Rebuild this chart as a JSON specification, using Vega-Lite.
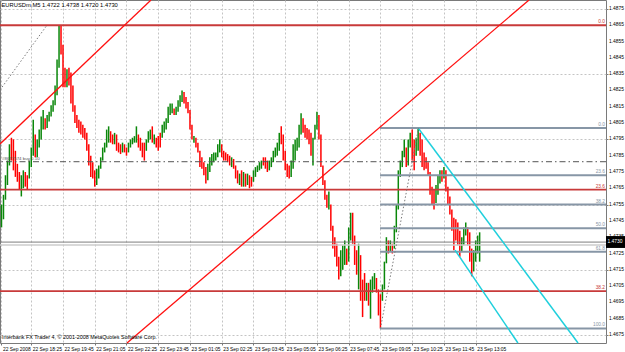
{
  "$schema": "https://vega.github.io/schema/vega-lite/v6.json",
  "width": 606,
  "height": 343,
  "autosize": "none",
  "padding": {"left": 0, "top": 0, "right": 19, "bottom": 9},
  "background": "white",
  "config": {
    "view": {"stroke": "#7a7a7a", "strokeWidth": 1},
    "font": "Liberation Sans",
    "axis": {"labelFont": "Liberation Sans", "labelFontSize": 4.9, "labelColor": "#000000", "gridColor": "#c4c4c4", "gridDash": [2, 2], "gridWidth": 1, "tickColor": "#7a7a7a", "tickSize": 2, "domain": false, "title": null, "zindex": 0, "labelOverlap": false, "labelSeparation": 0, "labelFlush": false}
  },
  "datasets": {
    "bars": [
      {"k":0,"h":1.4755,"l":1.4741,"u":1},{"k":1,"h":1.4761,"l":1.4746,"u":1},{"k":2,"h":1.4773,"l":1.4758,"u":1},{"k":3,"h":1.4782,"l":1.4767,"u":1},{"k":4,"h":1.4792,"l":1.4779,"u":1},
      {"k":5,"h":1.4796,"l":1.4782,"u":0},{"k":6,"h":1.4795,"l":1.4776,"u":0},{"k":7,"h":1.4788,"l":1.4772,"u":0},{"k":8,"h":1.4780,"l":1.4769,"u":0},{"k":9,"h":1.4775,"l":1.4764,"u":0},
      {"k":10,"h":1.4773,"l":1.4760,"u":1},{"k":11,"h":1.4776,"l":1.4765,"u":1},{"k":12,"h":1.4775,"l":1.4766,"u":0},{"k":13,"h":1.4773,"l":1.4764,"u":0},{"k":14,"h":1.4782,"l":1.4771,"u":1},
      {"k":15,"h":1.4790,"l":1.4778,"u":1},{"k":16,"h":1.4807,"l":1.4785,"u":1},{"k":17,"h":1.4798,"l":1.4784,"u":0},{"k":18,"h":1.4795,"l":1.4784,"u":1},{"k":19,"h":1.4801,"l":1.4790,"u":1},
      {"k":20,"h":1.4809,"l":1.4795,"u":1},{"k":21,"h":1.4813,"l":1.4801,"u":1},{"k":22,"h":1.4808,"l":1.4801,"u":0},{"k":23,"h":1.4810,"l":1.4802,"u":1},{"k":24,"h":1.4812,"l":1.4806,"u":1},
      {"k":25,"h":1.4816,"l":1.4809,"u":1},{"k":26,"h":1.4819,"l":1.4812,"u":1},{"k":27,"h":1.4828,"l":1.4816,"u":1},{"k":28,"h":1.4844,"l":1.4822,"u":1},{"k":29,"h":1.4865,"l":1.4839,"u":1},
      {"k":30,"h":1.4865,"l":1.4847,"u":0},{"k":31,"h":1.4853,"l":1.4827,"u":0},{"k":32,"h":1.4839,"l":1.4827,"u":0},{"k":33,"h":1.4838,"l":1.4827,"u":1},{"k":34,"h":1.4839,"l":1.4828,"u":0},
      {"k":35,"h":1.4836,"l":1.4817,"u":0},{"k":36,"h":1.4828,"l":1.4812,"u":0},{"k":37,"h":1.4816,"l":1.4805,"u":0},{"k":38,"h":1.4810,"l":1.4802,"u":0},{"k":39,"h":1.4807,"l":1.4799,"u":0},
      {"k":40,"h":1.4806,"l":1.4798,"u":0},{"k":41,"h":1.4804,"l":1.4796,"u":0},{"k":42,"h":1.4802,"l":1.4795,"u":0},{"k":43,"h":1.4799,"l":1.4788,"u":0},{"k":44,"h":1.4792,"l":1.4779,"u":0},
      {"k":45,"h":1.4785,"l":1.4772,"u":0},{"k":46,"h":1.4781,"l":1.4771,"u":0},{"k":47,"h":1.4776,"l":1.4766,"u":0},{"k":48,"h":1.4777,"l":1.4767,"u":1},{"k":49,"h":1.4779,"l":1.4771,"u":1},
      {"k":50,"h":1.4784,"l":1.4777,"u":1},{"k":51,"h":1.4790,"l":1.4782,"u":1},{"k":52,"h":1.4793,"l":1.4787,"u":1},{"k":53,"h":1.4801,"l":1.4790,"u":1},{"k":54,"h":1.4803,"l":1.4793,"u":1},
      {"k":55,"h":1.4800,"l":1.4793,"u":0},{"k":56,"h":1.4798,"l":1.4792,"u":0},{"k":57,"h":1.4799,"l":1.4792,"u":1},{"k":58,"h":1.4798,"l":1.4788,"u":0},{"k":59,"h":1.4793,"l":1.4787,"u":0},
      {"k":60,"h":1.4792,"l":1.4786,"u":0},{"k":61,"h":1.4793,"l":1.4787,"u":1},{"k":62,"h":1.4792,"l":1.4787,"u":0},{"k":63,"h":1.4790,"l":1.4785,"u":0},{"k":64,"h":1.4793,"l":1.4787,"u":1},
      {"k":65,"h":1.4795,"l":1.4790,"u":1},{"k":66,"h":1.4796,"l":1.4792,"u":1},{"k":67,"h":1.4797,"l":1.4793,"u":1},{"k":68,"h":1.4803,"l":1.4793,"u":1},{"k":69,"h":1.4798,"l":1.4790,"u":0},
      {"k":70,"h":1.4796,"l":1.4788,"u":0},{"k":71,"h":1.4793,"l":1.4784,"u":0},{"k":72,"h":1.4793,"l":1.4782,"u":0},{"k":73,"h":1.4795,"l":1.4788,"u":1},{"k":74,"h":1.4800,"l":1.4793,"u":1},
      {"k":75,"h":1.4801,"l":1.4795,"u":1},{"k":76,"h":1.4803,"l":1.4793,"u":0},{"k":77,"h":1.4798,"l":1.4792,"u":1},{"k":78,"h":1.4796,"l":1.4790,"u":0},{"k":79,"h":1.4797,"l":1.4788,"u":0},
      {"k":80,"h":1.4799,"l":1.4790,"u":0},{"k":81,"h":1.4804,"l":1.4796,"u":1},{"k":82,"h":1.4806,"l":1.4799,"u":1},{"k":83,"h":1.4808,"l":1.4801,"u":1},{"k":84,"h":1.4815,"l":1.4805,"u":1},
      {"k":85,"h":1.4817,"l":1.4810,"u":1},{"k":86,"h":1.4817,"l":1.4811,"u":1},{"k":87,"h":1.4814,"l":1.4810,"u":0},{"k":88,"h":1.4815,"l":1.4810,"u":1},{"k":89,"h":1.4819,"l":1.4812,"u":1},
      {"k":90,"h":1.4822,"l":1.4815,"u":1},{"k":91,"h":1.4825,"l":1.4818,"u":1},{"k":92,"h":1.4824,"l":1.4817,"u":0},{"k":93,"h":1.4821,"l":1.4814,"u":0},{"k":94,"h":1.4818,"l":1.4811,"u":0},
      {"k":95,"h":1.4813,"l":1.4801,"u":0},{"k":96,"h":1.4804,"l":1.4795,"u":0},{"k":97,"h":1.4797,"l":1.4793,"u":1},{"k":98,"h":1.4796,"l":1.4790,"u":0},{"k":99,"h":1.4793,"l":1.4787,"u":0},
      {"k":100,"h":1.4788,"l":1.4778,"u":0},{"k":101,"h":1.4784,"l":1.4777,"u":0},{"k":102,"h":1.4781,"l":1.4773,"u":0},{"k":103,"h":1.4778,"l":1.4768,"u":0},{"k":104,"h":1.4780,"l":1.4770,"u":1},
      {"k":105,"h":1.4784,"l":1.4775,"u":1},{"k":106,"h":1.4786,"l":1.4779,"u":1},{"k":107,"h":1.4787,"l":1.4781,"u":1},{"k":108,"h":1.4787,"l":1.4782,"u":1},{"k":109,"h":1.4792,"l":1.4784,"u":1},
      {"k":110,"h":1.4795,"l":1.4787,"u":1},{"k":111,"h":1.4792,"l":1.4784,"u":0},{"k":112,"h":1.4788,"l":1.4782,"u":0},{"k":113,"h":1.4787,"l":1.4782,"u":0},{"k":114,"h":1.4786,"l":1.4781,"u":0},
      {"k":115,"h":1.4785,"l":1.4779,"u":0},{"k":116,"h":1.4784,"l":1.4778,"u":1},{"k":117,"h":1.4783,"l":1.4777,"u":0},{"k":118,"h":1.4779,"l":1.4771,"u":0},{"k":119,"h":1.4776,"l":1.4768,"u":0},
      {"k":120,"h":1.4774,"l":1.4767,"u":1},{"k":121,"h":1.4776,"l":1.4766,"u":0},{"k":122,"h":1.4775,"l":1.4766,"u":1},{"k":123,"h":1.4774,"l":1.4766,"u":0},{"k":124,"h":1.4774,"l":1.4767,"u":1},
      {"k":125,"h":1.4773,"l":1.4765,"u":0},{"k":126,"h":1.4772,"l":1.4766,"u":0},{"k":127,"h":1.4776,"l":1.4769,"u":1},{"k":128,"h":1.4778,"l":1.4772,"u":1},{"k":129,"h":1.4779,"l":1.4775,"u":1},
      {"k":130,"h":1.4781,"l":1.4776,"u":1},{"k":131,"h":1.4782,"l":1.4777,"u":1},{"k":132,"h":1.4784,"l":1.4779,"u":0},{"k":133,"h":1.4784,"l":1.4777,"u":0},{"k":134,"h":1.4782,"l":1.4775,"u":0},
      {"k":135,"h":1.4782,"l":1.4776,"u":1},{"k":136,"h":1.4784,"l":1.4778,"u":1},{"k":137,"h":1.4788,"l":1.4781,"u":1},{"k":138,"h":1.4790,"l":1.4784,"u":1},{"k":139,"h":1.4793,"l":1.4785,"u":1},
      {"k":140,"h":1.4799,"l":1.4788,"u":1},{"k":141,"h":1.4803,"l":1.4792,"u":0},{"k":142,"h":1.4798,"l":1.4782,"u":0},{"k":143,"h":1.4788,"l":1.4776,"u":0},{"k":144,"h":1.4780,"l":1.4772,"u":0},
      {"k":145,"h":1.4779,"l":1.4771,"u":0},{"k":146,"h":1.4782,"l":1.4772,"u":1},{"k":147,"h":1.4792,"l":1.4777,"u":1},{"k":148,"h":1.4795,"l":1.4782,"u":1},{"k":149,"h":1.4796,"l":1.4788,"u":1},
      {"k":150,"h":1.4804,"l":1.4790,"u":1},{"k":151,"h":1.4811,"l":1.4798,"u":1},{"k":152,"h":1.4808,"l":1.4799,"u":0},{"k":153,"h":1.4804,"l":1.4796,"u":0},{"k":154,"h":1.4802,"l":1.4795,"u":0},
      {"k":155,"h":1.4801,"l":1.4792,"u":0},{"k":156,"h":1.4799,"l":1.4785,"u":0},{"k":157,"h":1.4796,"l":1.4779,"u":1},{"k":158,"h":1.4804,"l":1.4795,"u":1},{"k":159,"h":1.4812,"l":1.4801,"u":1},
      {"k":160,"h":1.4810,"l":1.4795,"u":0},{"k":161,"h":1.4798,"l":1.4778,"u":0},{"k":162,"h":1.4779,"l":1.4767,"u":0},{"k":163,"h":1.4770,"l":1.4758,"u":0},{"k":164,"h":1.4761,"l":1.4753,"u":0},
      {"k":165,"h":1.4763,"l":1.4752,"u":1},{"k":166,"h":1.4755,"l":1.4739,"u":0},{"k":167,"h":1.4742,"l":1.4728,"u":0},{"k":168,"h":1.4735,"l":1.4723,"u":0},{"k":169,"h":1.4731,"l":1.4717,"u":0},
      {"k":170,"h":1.4723,"l":1.4709,"u":0},{"k":171,"h":1.4727,"l":1.4711,"u":1},{"k":172,"h":1.4730,"l":1.4715,"u":1},{"k":173,"h":1.4733,"l":1.4718,"u":1},{"k":174,"h":1.4728,"l":1.4718,"u":0},
      {"k":175,"h":1.4741,"l":1.4720,"u":1},{"k":176,"h":1.4750,"l":1.4733,"u":1},{"k":177,"h":1.4750,"l":1.4731,"u":0},{"k":178,"h":1.4736,"l":1.4718,"u":0},{"k":179,"h":1.4727,"l":1.4712,"u":0},
      {"k":180,"h":1.4731,"l":1.4703,"u":1},{"k":181,"h":1.4724,"l":1.4696,"u":0},{"k":182,"h":1.4709,"l":1.4686,"u":0},{"k":183,"h":1.4713,"l":1.4696,"u":0},{"k":184,"h":1.4707,"l":1.4696,"u":1},
      {"k":185,"h":1.4707,"l":1.4693,"u":0},{"k":186,"h":1.4709,"l":1.4685,"u":1},{"k":187,"h":1.4711,"l":1.4701,"u":1},{"k":188,"h":1.4713,"l":1.4703,"u":1},{"k":189,"h":1.4710,"l":1.4701,"u":0},
      {"k":190,"h":1.4703,"l":1.4687,"u":0},{"k":191,"h":1.4700,"l":1.4679,"u":0},{"k":192,"h":1.4706,"l":1.4696,"u":1},{"k":193,"h":1.4720,"l":1.4703,"u":1},{"k":194,"h":1.4735,"l":1.4719,"u":1},
      {"k":195,"h":1.4733,"l":1.4725,"u":0},{"k":196,"h":1.4733,"l":1.4726,"u":1},{"k":197,"h":1.4731,"l":1.4725,"u":0},{"k":198,"h":1.4742,"l":1.4728,"u":1},{"k":199,"h":1.4755,"l":1.4738,"u":1},
      {"k":200,"h":1.4776,"l":1.4752,"u":1},{"k":201,"h":1.4782,"l":1.4772,"u":1},{"k":202,"h":1.4788,"l":1.4778,"u":1},{"k":203,"h":1.4795,"l":1.4784,"u":1},{"k":204,"h":1.4790,"l":1.4778,"u":0},
      {"k":205,"h":1.4795,"l":1.4779,"u":1},{"k":206,"h":1.4799,"l":1.4790,"u":1},{"k":207,"h":1.4801,"l":1.4782,"u":0},{"k":208,"h":1.4795,"l":1.4776,"u":0},{"k":209,"h":1.4796,"l":1.4785,"u":1},
      {"k":210,"h":1.4802,"l":1.4788,"u":1},{"k":211,"h":1.4799,"l":1.4785,"u":0},{"k":212,"h":1.4795,"l":1.4778,"u":0},{"k":213,"h":1.4787,"l":1.4776,"u":0},{"k":214,"h":1.4784,"l":1.4777,"u":0},
      {"k":215,"h":1.4781,"l":1.4773,"u":0},{"k":216,"h":1.4775,"l":1.4761,"u":0},{"k":217,"h":1.4766,"l":1.4755,"u":0},{"k":218,"h":1.4764,"l":1.4752,"u":0},{"k":219,"h":1.4767,"l":1.4756,"u":1},
      {"k":220,"h":1.4773,"l":1.4761,"u":1},{"k":221,"h":1.4776,"l":1.4768,"u":1},{"k":222,"h":1.4776,"l":1.4769,"u":0},{"k":223,"h":1.4778,"l":1.4771,"u":1},{"k":224,"h":1.4776,"l":1.4763,"u":0},
      {"k":225,"h":1.4766,"l":1.4755,"u":0},{"k":226,"h":1.4760,"l":1.4749,"u":0},{"k":227,"h":1.4752,"l":1.4739,"u":0},{"k":228,"h":1.4747,"l":1.4727,"u":0},{"k":229,"h":1.4746,"l":1.4733,"u":0},
      {"k":230,"h":1.4744,"l":1.4730,"u":0},{"k":231,"h":1.4739,"l":1.4723,"u":0},{"k":232,"h":1.4735,"l":1.4726,"u":1},{"k":233,"h":1.4741,"l":1.4730,"u":1},{"k":234,"h":1.4744,"l":1.4736,"u":1},
      {"k":235,"h":1.4741,"l":1.4730,"u":0},{"k":236,"h":1.4738,"l":1.4720,"u":0},{"k":237,"h":1.4728,"l":1.4711,"u":0},{"k":238,"h":1.4727,"l":1.4714,"u":1},{"k":239,"h":1.4733,"l":1.4720,"u":1},
      {"k":240,"h":1.4736,"l":1.4725,"u":1},{"k":241,"h":1.4738,"l":1.4720,"u":1}
    ],
    "ticks": [
      {"p":1.4675},{"p":1.4685},{"p":1.4695},{"p":1.4705},{"p":1.4715},{"p":1.4725},{"p":1.4735},{"p":1.4745},{"p":1.4755},{"p":1.4765},{"p":1.4775},
      {"p":1.4785},{"p":1.4795},{"p":1.4805},{"p":1.4815},{"p":1.4825},{"p":1.4835},{"p":1.4845},{"p":1.4855},{"p":1.4865},{"p":1.4875}
    ],
    "redfib": [
      {"lv":"0.0","p":1.4865},{"lv":"23.6","p":1.47642},{"lv":"38.2","p":1.47019}
    ],
    "grayfib": [
      {"lv":"0.0","p":1.4802},{"lv":"23.6","p":1.4773},{"lv":"38.2","p":1.4755},{"lv":"50.0","p":1.47405},{"lv":"61.8","p":1.4726},{"lv":"100.0","p":1.4679}
    ],
    "segs": [
      {"g":"red","id":"a","k":-0.756,"p":1.47922},{"g":"red","id":"a","k":75.35,"p":1.48805},
      {"g":"red","id":"b","k":63.26,"p":1.46701},{"g":"red","id":"b","k":265.9,"p":1.48805},
      {"g":"cyan","id":"c1","k":210,"p":1.4802},{"g":"cyan","id":"c1","k":290.6,"p":1.46701},
      {"g":"cyan","id":"c2","k":228.6,"p":1.47271},{"g":"cyan","id":"c2","k":260.3,"p":1.46701},
      {"g":"dot","id":"d1","k":-0.756,"p":1.48253},{"g":"dot","id":"d1","k":22.9,"p":1.4865},
      {"g":"dot","id":"d2","k":191,"p":1.4679},{"g":"dot","id":"d2","k":210.2,"p":1.4802}
    ]
  },
  "layer": [
    {
      "data": {"name": "bars"},
      "mark": {"type": "rule", "strokeWidth": 1.5},
      "encoding": {
        "x": {"field": "k", "type": "quantitative",
          "scale": {"domain": [-0.756, 304.69], "nice": false, "zero": false},
          "axis": {"orient": "bottom", "values": [0,15,31,47,63,79,95,111,127,143,159,175,191,207,223,239],
            "labelExpr": "['22 Sep 2008','22 Sep 18:25','22 Sep 19:45','22 Sep 21:05','22 Sep 22:25','22 Sep 23:45','23 Sep 01:05','23 Sep 02:25','23 Sep 03:45','23 Sep 05:05','23 Sep 06:25','23 Sep 07:45','23 Sep 09:05','23 Sep 10:25','23 Sep 11:45','23 Sep 13:05'][indexof([0,15,31,47,63,79,95,111,127,143,159,175,191,207,223,239], datum.value)]",
            "labelAlign": "left", "labelBaseline": "top", "labelOffset": 1, "labelPadding": 1, "labelFlush": false, "labelOverlap": false, "grid": true}},
        "y": {"field": "l", "type": "quantitative",
          "scale": {"domain": [1.46701, 1.48805], "nice": false, "zero": false},
          "axis": {"orient": "right", "values": [1.4675,1.4685,1.4695,1.4705,1.4715,1.4725,1.4735,1.4745,1.4755,1.4765,1.4775,1.4785,1.4795,1.4805,1.4815,1.4825,1.4835,1.4845,1.4855,1.4865,1.4875],
            "labels": false, "grid": true}},
        "y2": {"field": "h"},
        "color": {"field": "u", "type": "nominal", "scale": {"domain": [1, 0], "range": ["#0a870a", "#ff0000"]}, "legend": null}
      }
    },
    {
      "data": {"name": "ticks"},
      "mark": {"type": "text", "fontSize": 4.9, "align": "left", "baseline": "middle", "color": "#000000", "dx": 3},
      "encoding": {"x": {"datum": 304.69}, "y": {"field": "p", "type": "quantitative"}, "text": {"field": "p", "format": ".4f"}}
    },
    {
      "data": {"name": "redfib"},
      "mark": {"type": "rule", "color": "#c83a3a", "strokeWidth": 1.8},
      "encoding": {"y": {"field": "p", "type": "quantitative"}}
    },
    {
      "data": {"name": "redfib"},
      "mark": {"type": "text", "color": "#c83a3a", "fontSize": 4.8, "align": "right", "baseline": "bottom", "dy": -1},
      "encoding": {"x": {"datum": 304.2}, "y": {"field": "p", "type": "quantitative"}, "text": {"field": "lv"}}
    },
    {
      "data": {"name": "grayfib"},
      "mark": {"type": "rule", "color": "#8796a6", "strokeWidth": 2},
      "encoding": {"x": {"datum": 190.8}, "x2": {"datum": 304.69}, "y": {"field": "p", "type": "quantitative"}}
    },
    {
      "data": {"name": "grayfib"},
      "mark": {"type": "text", "color": "#8796a6", "fontSize": 4.8, "align": "right", "baseline": "bottom", "dy": -1},
      "encoding": {"x": {"datum": 304.2}, "y": {"field": "p", "type": "quantitative"}, "text": {"field": "lv"}}
    },
    {
      "data": {"values": [{"p": 1.47813}]},
      "mark": {"type": "rule", "color": "#555555", "strokeWidth": 1, "strokeDash": [6, 3, 1.5, 3]},
      "encoding": {"y": {"field": "p", "type": "quantitative"}}
    },
    {
      "data": {"values": [{"p": 1.47302}]},
      "mark": {"type": "rule", "strokeWidth": 1.5, "color": "#cccccc"},
      "encoding": {"y": {"field": "p", "type": "quantitative"}}
    },
    {
      "data": {"values": [{"p": 1.4732}]},
      "mark": {"type": "rule", "strokeWidth": 1, "color": "#7d7d7d"},
      "encoding": {"y": {"field": "p", "type": "quantitative"}}
    },
    {
      "data": {"name": "segs"},
      "transform": [{"filter": "datum.g == 'red'"}],
      "mark": {"type": "line", "color": "#ff1010", "strokeWidth": 1.3},
      "encoding": {"x": {"field": "k", "type": "quantitative"}, "y": {"field": "p", "type": "quantitative"}, "detail": {"field": "id"}}
    },
    {
      "data": {"name": "segs"},
      "transform": [{"filter": "datum.g == 'cyan'"}],
      "mark": {"type": "line", "color": "#1fcfdc", "strokeWidth": 1.5},
      "encoding": {"x": {"field": "k", "type": "quantitative"}, "y": {"field": "p", "type": "quantitative"}, "detail": {"field": "id"}}
    },
    {
      "data": {"name": "segs"},
      "transform": [{"filter": "datum.g == 'dot'"}],
      "mark": {"type": "line", "color": "#7a7a7a", "strokeWidth": 1, "strokeDash": [1.5, 2]},
      "encoding": {"x": {"field": "k", "type": "quantitative"}, "y": {"field": "p", "type": "quantitative"}, "detail": {"field": "id"}}
    },
    {
      "data": {"values": [{"t": "EURUSDm,M5  1.4722 1.4738 1.4720 1.4730"}]},
      "mark": {"type": "text", "fontSize": 5.8, "align": "left", "baseline": "middle", "color": "#000000", "dx": 1.5},
      "encoding": {"x": {"datum": -0.756}, "y": {"datum": 1.48774}, "text": {"field": "t"}}
    },
    {
      "data": {"values": [{"t": "Interbank FX Trader 4, © 2001-2008 MetaQuotes Software Corp."}]},
      "mark": {"type": "text", "fontSize": 5.4, "align": "left", "baseline": "middle", "color": "#000000", "dx": 2},
      "encoding": {"x": {"datum": -0.756}, "y": {"datum": 1.46738}, "text": {"field": "t"}}
    },
    {
      "data": {"values": [{"t": "#8677574 buy 0.10", "p": 1.47813}]},
      "mark": {"type": "text", "fontSize": 4.4, "align": "left", "baseline": "bottom", "color": "#555555", "dx": 2, "dy": -1},
      "encoding": {"x": {"datum": -0.756}, "y": {"field": "p", "type": "quantitative"}, "text": {"field": "t"}}
    },
    {
      "data": {"values": [{"t": "1.4730"}]},
      "mark": {"type": "rect", "color": "#000000"},
      "encoding": {"x": {"datum": 304.69}, "x2": {"datum": 314.3}, "y": {"datum": 1.47357}, "y2": {"datum": 1.47284}}
    },
    {
      "data": {"values": [{"p": 1.47321, "t": "1.4730"}]},
      "mark": {"type": "text", "fontSize": 4.9, "align": "left", "baseline": "middle", "color": "#ffffff", "dx": 1.5},
      "encoding": {"x": {"datum": 304.69}, "y": {"field": "p", "type": "quantitative"}, "text": {"field": "t"}}
    }
  ]
}
